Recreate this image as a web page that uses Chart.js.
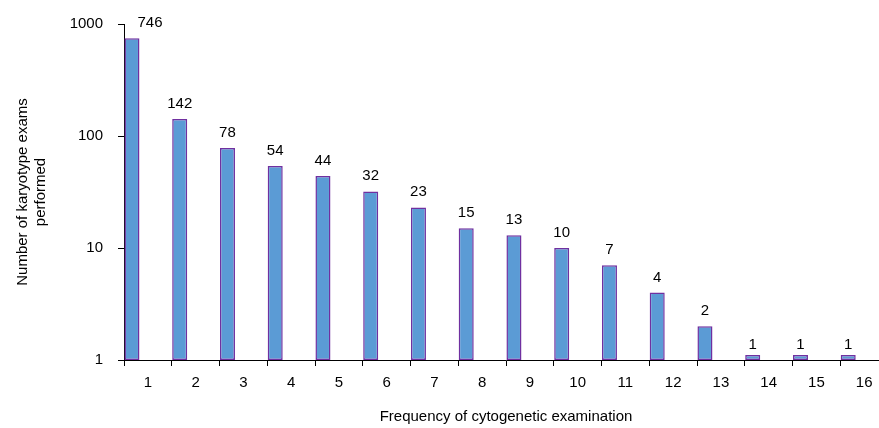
<!DOCTYPE html>
<html>
<head>
<meta charset="utf-8">
<script src="https://cdn.jsdelivr.net/npm/chart.js@4/dist/chart.umd.min.js"></script>
<style>
  html, body { margin: 0; padding: 0; background: #fff; overflow: hidden; }
  #wrap { width: 879px; height: 428px; overflow: hidden; }
</style>
</head>
<body>
<div id="wrap"><canvas id="chart" width="890" height="428"></canvas></div>
<script>
const frequencies = ['1', '2', '3', '4', '5', '6', '7', '8', '9', '10', '11', '12', '13', '14', '15', '16'];
const exams = [746, 142, 78, 54, 44, 32, 23, 15, 13, 10, 7, 4, 2, 1, 1, 1];
const yTicks = [1, 10, 100, 1000];

const font = { family: 'Liberation Sans, Arial, sans-serif', size: 15 };

// value labels above the bars
const valueLabels = {
  id: 'valueLabels',
  afterDatasetsDraw(chart) {
    const ctx = chart.ctx;
    const y = chart.scales.y;
    const meta = chart.getDatasetMeta(0);
    ctx.save();
    ctx.font = font.size + 'px ' + font.family;
    ctx.fillStyle = '#000';
    ctx.textAlign = 'center';
    ctx.textBaseline = 'alphabetic';
    meta.data.forEach((bar, i) => {
      let x = bar.x;
      if (i === 0) x += 18; // top label pushed clear of the axis
      ctx.fillText(String(exams[i]), x, y.getPixelForValue(exams[i]) - 11);
    });
    ctx.restore();
  }
};

new Chart(document.getElementById('chart'), {
  type: 'bar',
  data: {
    labels: frequencies,
    datasets: [
      {
        data: exams,
        backgroundColor: '#5b9bd5',
        borderColor: '#7030a0',
        borderWidth: 1.5,
        borderSkipped: false,
        minBarLength: 5
      },
      // empty slots keep the bars on the left of each category, as in the original
      { data: frequencies.map(() => null) },
      { data: frequencies.map(() => null) }
    ]
  },
  options: {
    responsive: false,
    animation: false,
    categoryPercentage: 1,
    barPercentage: 0.944,
    layout: { padding: { left: 14, right: 2, top: 20, bottom: 2 } },
    plugins: {
      legend: { display: false },
      tooltip: { enabled: false }
    },
    scales: {
      x: {
        offset: true,
        grid: { offset: true, drawOnChartArea: false, tickLength: 6, color: '#000' },
        border: { color: '#000', width: 1 },
        ticks: { font: font, color: '#000', padding: 8, maxRotation: 0 },
        title: {
          display: true,
          text: 'Frequency of cytogenetic examination',
          font: font,
          color: '#000',
          padding: { top: 0, bottom: 0 }
        },
        afterFit: (scale) => { scale.height = 66; }
      },
      y: {
        type: 'logarithmic',
        min: 1,
        max: 1000,
        afterBuildTicks: (scale) => { scale.ticks = yTicks.map(v => ({ value: v })); },
        grid: { drawOnChartArea: false, tickLength: 6, color: '#000' },
        border: { color: '#000', width: 1 },
        ticks: {
          font: font,
          color: '#000',
          padding: 15,
          callback: (v) => String(v)
        },
        title: {
          display: true,
          text: ['Number of karyotype exams', 'performed'],
          font: { family: font.family, size: 15, lineHeight: 1.2 },
          color: '#000',
          padding: { top: 0, bottom: 0 }
        },
        afterFit: (scale) => { scale.width = 110; }
      }
    }
  },
  plugins: [valueLabels]
});
</script>
</body>
</html>
